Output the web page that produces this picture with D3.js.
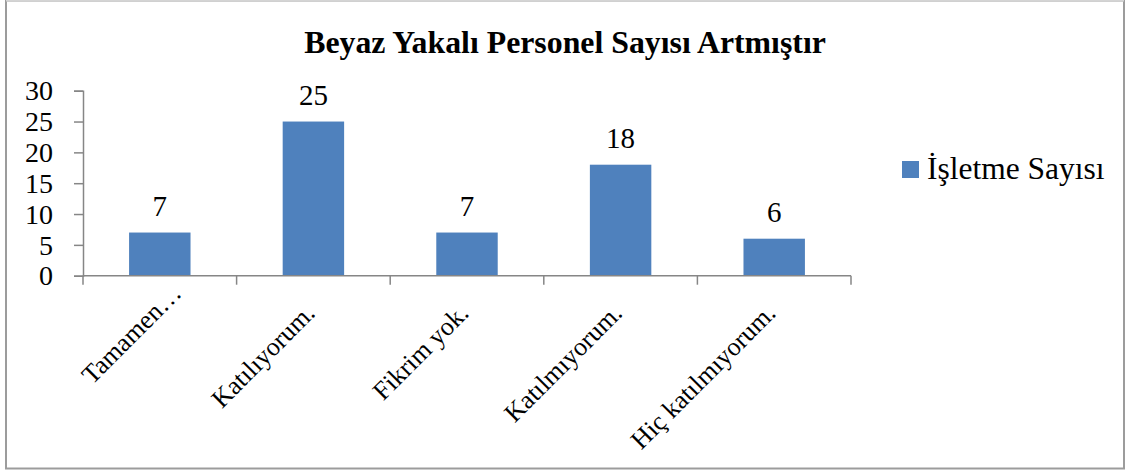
<!DOCTYPE html>
<html>
<head>
<meta charset="utf-8">
<script src="https://cdn.jsdelivr.net/npm/d3@7"></script>
<style>
  body { margin: 0; background: #fff; }
  text { font-family: "Liberation Serif", "Times New Roman", serif; }
</style>
</head>
<body>
<div id="main-container"></div>
<script>
const title = 'Beyaz Yakalı Personel Sayısı Artmıştır'
const categories = ['Tamamen…', 'Katılıyorum.', 'Fikrim yok.', 'Katılmıyorum.', 'Hiç katılmıyorum.']
const values = [7, 25, 7, 18, 6]
const seriesName = 'İşletme Sayısı'
const yTicks = [0, 5, 10, 15, 20, 25, 30]

const width = 1132
const height = 472
const barColor = '#4f81bd'
const axisColor = '#868686'

const svg = d3.select('#main-container').append('svg')
  .attr('width', width).attr('height', height)

// chart frame
svg.append('rect').attr('x', 6).attr('y', 0.5).attr('width', 1118).attr('height', 468)
  .attr('fill', '#fff').attr('stroke', '#9c9c9c').attr('stroke-width', 2)
svg.append('line').attr('x1', 6).attr('x2', 1124).attr('y1', 0.5).attr('y2', 0.5)
  .attr('stroke', '#d4d4d4').attr('stroke-width', 2)

svg.append('text').text(title)
  .attr('x', 565).attr('y', 53).attr('text-anchor', 'middle')
  .style('font-size', '31.8px').style('font-weight', 'bold')

const xScale = d3.scaleBand().domain(categories).range([83, 851]).padding(0)
const yScale = d3.scaleLinear().domain([0, 30]).range([275.7, 90.7])
const bw = xScale.bandwidth()

// y axis
const yAxis = d3.axisLeft(yScale).tickValues(yTicks).tickSize(9).tickPadding(21)
const gy = svg.append('g').attr('transform', 'translate(83,0)').call(yAxis)
gy.select('.domain').attr('stroke', axisColor).attr('stroke-width', 1.5)
gy.selectAll('.tick line').attr('stroke', axisColor).attr('stroke-width', 1.5)
gy.selectAll('.tick text').style('font-size', '28px').attr('fill', '#000')
  .style('font-family', '"Liberation Serif", serif').attr('dy', '0.33em')

// bars
svg.selectAll('rect.bar').data(values).enter().append('rect').attr('class', 'bar')
  .attr('x', (d, i) => xScale(categories[i]) + bw * 0.3)
  .attr('y', d => yScale(d))
  .attr('width', bw * 0.4)
  .attr('height', d => yScale(0) - yScale(d))
  .attr('fill', barColor)

// data labels
svg.selectAll('text.val').data(values).enter().append('text').attr('class', 'val')
  .text(d => d)
  .attr('x', (d, i) => xScale(categories[i]) + bw / 2)
  .attr('y', d => yScale(d) - 17)
  .attr('text-anchor', 'middle')
  .style('font-size', '29px')

// x axis: line plus ticks at category boundaries
const xAxisG = svg.append('g')
xAxisG.append('line').attr('x1', 83).attr('x2', 851)
  .attr('y1', yScale(0)).attr('y2', yScale(0))
  .attr('stroke', axisColor).attr('stroke-width', 1.5)
const bounds = categories.map(c => xScale(c)).concat([xScale.range()[1]])
xAxisG.selectAll('line.tk').data(bounds).enter().append('line').attr('class', 'tk')
  .attr('x1', d => d).attr('x2', d => d)
  .attr('y1', yScale(0)).attr('y2', yScale(0) + 9)
  .attr('stroke', axisColor).attr('stroke-width', 1.5)

// rotated category labels, right end at tick centre
svg.selectAll('text.cat').data(categories).enter().append('text').attr('class', 'cat')
  .text(d => d)
  .attr('text-anchor', 'end')
  .attr('transform', d => {
    let cx = xScale(d) + bw / 2 + 3
    let cy = yScale(0) + 39
    if (d.endsWith('…')) { cx += 20; cy -= 20 }
    return `translate(${cx},${cy}) rotate(-45)`
  })
  .style('font-size', '26px')

// legend
svg.append('rect').attr('x', 902).attr('y', 161).attr('width', 17).attr('height', 17).attr('fill', barColor)
svg.append('text').text(seriesName).attr('x', 927).attr('y', 179).style('font-size', '31.5px')
</script>
</body>
</html>
